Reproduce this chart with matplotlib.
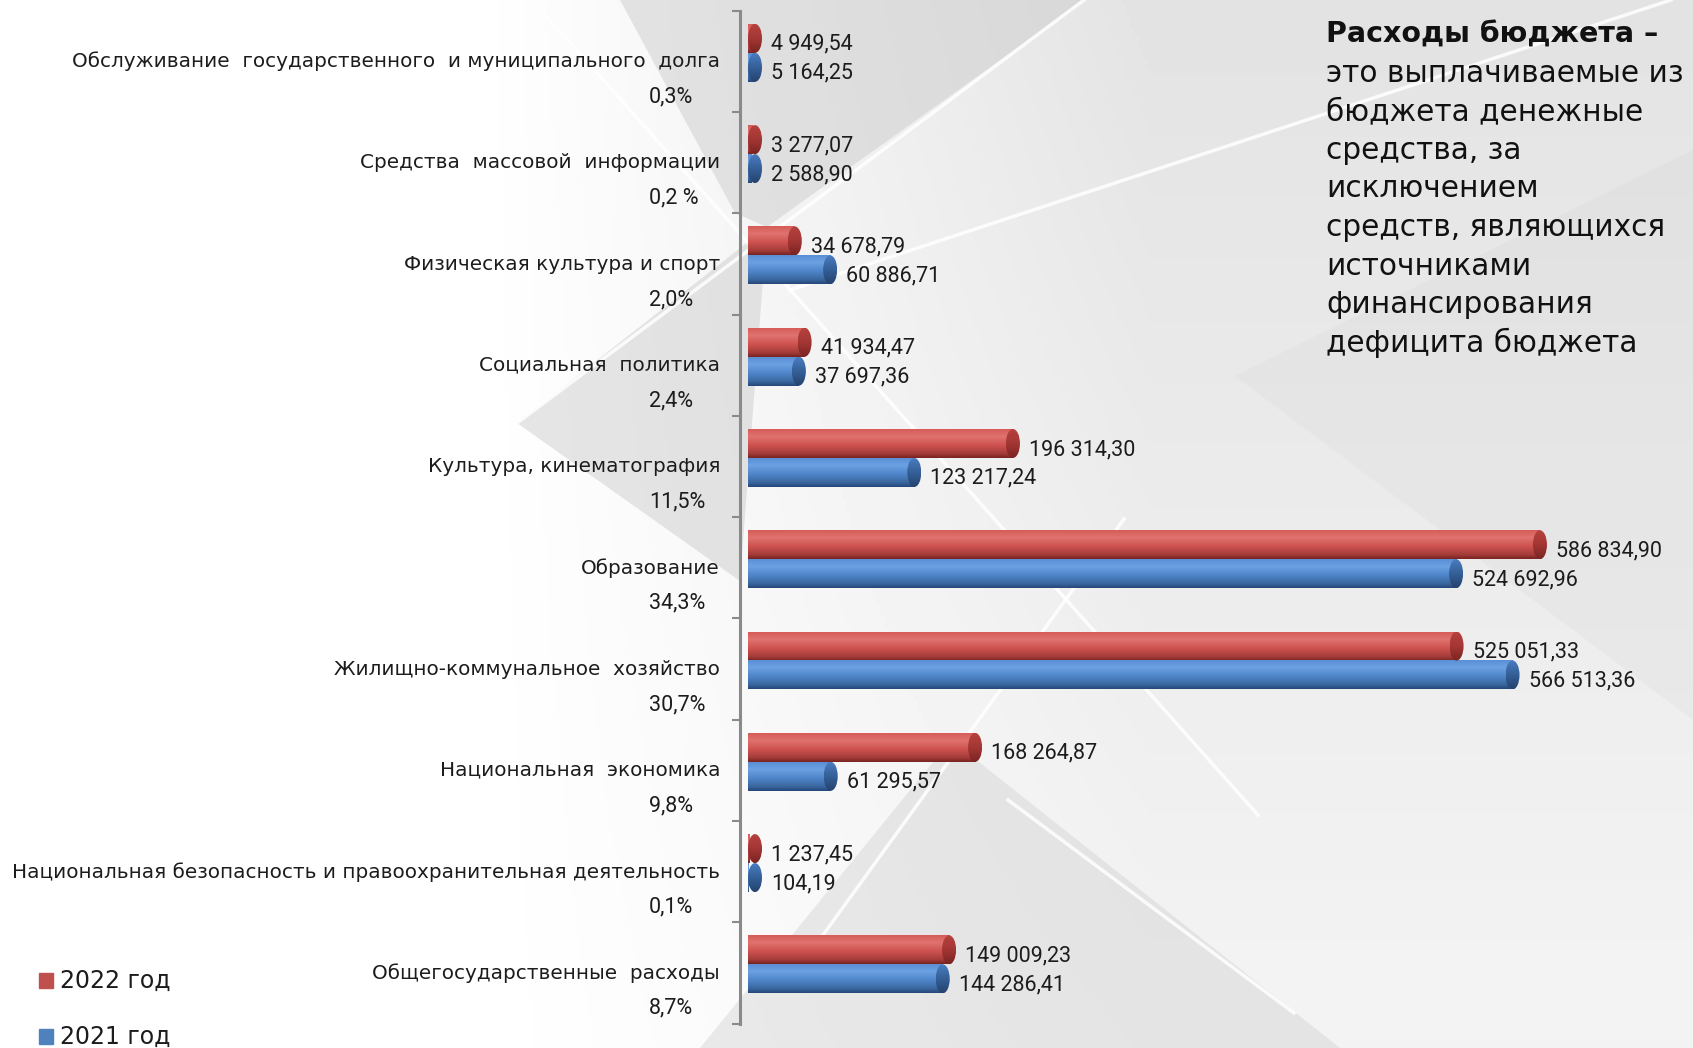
import numpy as np
import matplotlib.pyplot as plt
from matplotlib.patches import Ellipse, Polygon, Rectangle
from matplotlib.colors import LinearSegmentedColormap

# --- dati (dall'alto verso il basso) ---
categories = [
    "Обслуживание  государственного  и муниципального  долга",
    "Средства  массовой  информации",
    "Физическая культура и спорт",
    "Социальная  политика",
    "Культура, кинематография",
    "Образование",
    "Жилищно-коммунальное  хозяйство",
    "Национальная  экономика",
    "Национальная безопасность и правоохранительная деятельность",
    "Общегосударственные  расходы",
]
shares = ["0,3%", "0,2 %", "2,0%", "2,4%", "11,5%", "34,3%", "30,7%", "9,8%", "0,1%", "8,7%"]
values_2022 = [4949.54, 3277.07, 34678.79, 41934.47, 196314.30,
               586834.90, 525051.33, 168264.87, 1237.45, 149009.23]
values_2021 = [5164.25, 2588.90, 60886.71, 37697.36, 123217.24,
               524692.96, 566513.36, 61295.57, 104.19, 144286.41]
series_names = ["2022 год", "2021 год"]

title_bold = "Расходы бюджета –"
title_lines = ["это выплачиваемые из", "бюджета денежные", "средства, за",
               "исключением", "средств, являющихся", "источниками",
               "финансирования", "дефицита бюджета"]

W, H = 1693, 1048
NUMFONT = ["Roboto", "DejaVu Sans"]
TXT = "#1c1c1c"

fig = plt.figure(figsize=(W / 100, H / 100), dpi=100)

# --- sfondo decorativo ---
bg = fig.add_axes([0, 0, 1, 1], zorder=0)
bg.set_xlim(0, W)
bg.set_ylim(H, 0)
bg.axis("off")
X, Y = np.meshgrid(np.linspace(0, 1, 400), np.linspace(0, 1, 260))
shade = 1 - 0.11 * np.clip((X - 0.28) / 0.4, 0, 1) * (1 - 0.6 * Y)
bg.imshow(shade, cmap="gray", vmin=0, vmax=1, extent=(0, W, H, 0), aspect="auto")

gray_shapes = [
    ([(620, 0), (1084, 0), (767, 227), (735, 213)], 0.45),
    ([(517, 423), (767, 227), (740, 581)], 0.45),
    ([(951, 740), (700, 1048), (1340, 1048)], 0.35),
    ([(1235, 376), (1693, 150), (1693, 720)], 0.14),
]
for pts, a in gray_shapes:
    bg.add_patch(Polygon(pts, closed=True, facecolor="#c8c8c8", edgecolor="none", alpha=a))
white_lines = [
    ((1084, 0), (517, 423)),
    ((1671, 0), (790, 290)),
    ((532, 0), (1258, 815)),
    ((1124, 519), (823, 935)),
    ((1008, 800), (1294, 1013)),
]
for (x0, y0), (x1, y1) in white_lines:
    bg.plot([x0, x1], [y0, y1], color="white", lw=2.5, alpha=0.85)

# legenda
bg.add_patch(Rectangle((39, 973), 14, 15, color="#c0504d"))
bg.add_patch(Rectangle((39, 1029), 14, 15, color="#4f81bd"))
bg.text(60, 981, series_names[0], va="center", fontsize=17, color=TXT)
bg.text(60, 1037, series_names[1], va="center", fontsize=17, color=TXT)

# testo descrittivo
bg.text(1326, 43, title_bold, fontsize=20.5, fontweight="bold", color="#111111")
for k, line in enumerate(title_lines):
    bg.text(1326, 43 + 38.6 * (k + 1), line, fontsize=21.3, color="#111111")

# --- grafico ---
ax = fig.add_axes([740 / W, (H - 1023.6) / H, (W - 740) / W, (1023.6 - 10.8) / H], zorder=1)
ax.patch.set_alpha(0)
units_per_px = 741.0
xmin, xmax = -8 * units_per_px, (W - 748) * units_per_px

red_cm = LinearSegmentedColormap.from_list("r", [(0, "#d65c58"), (0.25, "#e07370"), (0.55, "#cf5350"),
                                                  (0.85, "#a53c39"), (1, "#7a2422")])
blue_cm = LinearSegmentedColormap.from_list("b", [(0, "#5a8fd6"), (0.25, "#6ca2e2"), (0.55, "#4f86cb"),
                                                   (0.85, "#3a679f"), (1, "#26477a")])
red_cap = LinearSegmentedColormap.from_list("rc", ["#b5423f", "#a33633", "#7a2422"])
blue_cap = LinearSegmentedColormap.from_list("bc", ["#4a7cc0", "#355f97", "#25436f"])

h = 0.286
shift = 0.085
cap_w = 14 * units_per_px
grad = np.linspace(0, 1, 64).reshape(-1, 1)


def fmt(v):
    return f"{v:,.2f}".replace(",", " ").replace(".", ",")


for vals, cm, ccm, sgn in [(values_2022, red_cm, red_cap, -1), (values_2021, blue_cm, blue_cap, 1)]:
    for i, v in enumerate(vals):
        yc = i - shift + sgn * h / 2
        ax.imshow(grad, cmap=cm, extent=(0, v, yc + h / 2, yc - h / 2), aspect="auto",
                  interpolation="bilinear", zorder=2)
        cx = max(v, cap_w / 2)
        ell = Ellipse((cx, yc), cap_w, h, facecolor="none", edgecolor="none")
        ax.add_patch(ell)
        im = ax.imshow(grad, cmap=ccm,
                       extent=(cx - cap_w / 2, cx + cap_w / 2, yc + h / 2, yc - h / 2),
                       aspect="auto", interpolation="bilinear", zorder=3)
        im.set_clip_path(ell)
        ax.annotate(fmt(v), xy=(cx, yc), xytext=(16, -6), textcoords="offset pixels",
                    ha="left", va="center", fontsize=15.5, family=NUMFONT, color=TXT, zorder=4)

ytr = ax.get_yaxis_transform()
for i, (cat, sh) in enumerate(zip(categories, shares)):
    ax.annotate(cat, xy=(0, i), xycoords=ytr, xytext=(-20, 0), textcoords="offset pixels",
                ha="right", va="center", fontsize=14.4, color=TXT, annotation_clip=False)
    ax.annotate(sh, xy=(0, i + 0.35), xycoords=ytr, xytext=(-91, 0), textcoords="offset pixels",
                ha="left", va="center", fontsize=15.5, family=NUMFONT, color=TXT, annotation_clip=False)

ax.set_xlim(xmin, xmax)
ax.set_ylim(9.5, -0.5)
for side in ["top", "right", "bottom"]:
    ax.spines[side].set_visible(False)
ax.spines["left"].set_color("#8a8a8a")
ax.spines["left"].set_linewidth(2.2)
ax.set_xticks([])
ax.set_yticks(np.arange(-0.5, 10, 1))
ax.set_yticklabels([])
ax.tick_params(axis="y", length=6, width=1.5, color="#8a8a8a", direction="out")

fig.savefig("out.png", dpi=100)
